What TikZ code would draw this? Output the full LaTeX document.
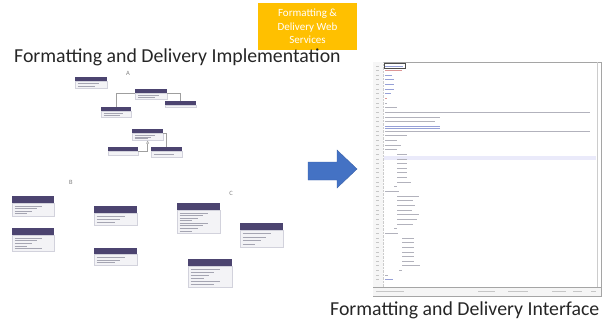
\documentclass[tikz,border=0pt]{standalone}
\usepackage{fontspec}
\setmainfont{Carlito}
\usetikzlibrary{arrows.meta,positioning}

\definecolor{umlpurple}{RGB}{76,68,112}
\definecolor{umlfill}{RGB}{243,243,246}
\definecolor{umledge}{RGB}{210,210,220}
\definecolor{umlgrey}{RGB}{165,165,178}
\definecolor{wsorange}{RGB}{255,192,0}
\definecolor{arrowblue}{RGB}{68,114,196}
\definecolor{edgrey}{RGB}{165,165,165}
\definecolor{codeblue}{RGB}{150,160,215}
\definecolor{codegrey}{RGB}{178,178,188}
\definecolor{codered}{RGB}{220,150,150}
\definecolor{hilite}{RGB}{234,234,250}

\tikzset{
  umlhead/.style={fill=umlpurple, inner sep=0, anchor=north west},
  umlbody/.style={fill=umlfill, draw=umledge, line width=0.3pt, inner sep=0, anchor=north west},
  umlrow/.style={umlgrey, line width=0.7pt},
  umllink/.style={draw=gray!75, line width=0.5pt},
  grouplabel/.style={font=\fontsize{6.5}{7}\selectfont, text=gray, inner sep=0},
  caption/.style={font=\fontsize{19.8}{22}\selectfont, text=black!85, inner sep=0, anchor=base west},
  wsbox/.style={fill=wsorange, text=white, align=center, inner sep=0,
    minimum width=99, minimum height=47, font=\fontsize{11}{13.5}\selectfont},
  codeline/.style={line width=1pt},
  lineno/.style={gray!45, line width=1pt},
}

% name, x, y, width, header height, body height, rows
\newcommand{\umlclass}[7]{%
  \node[umlhead, minimum width=#4, minimum height=#5] (#1) at (#2,#3) {};
  \node[umlbody, minimum width=#4, minimum height=#6] (#1b) at (#1.south west) {};
  \ifnum#7>0
  \foreach \r in {1,...,#7}{
    \pgfmathsetmacro\rowlen{#4*(0.3+0.12*mod(\r*7,4))}
    \pgfmathsetmacro\rowdown{#6*\r/(#7+1)}
    \draw[umlrow] ([xshift=2.5pt,yshift=-\rowdown pt]#1b.north west) -- ++(\rowlen pt,0);
  }
  \fi
}

\begin{document}
\begin{tikzpicture}[x=1pt, y=-1pt]
\useasboundingbox (0,0) rectangle (605,322);

% titles
\node[wsbox] (services) at (307.5,26.5) {Formatting \&\\Delivery Web\\Services};
\node[caption] (impltitle) at (14,62) {Formatting and Delivery Implementation};
\node[caption] (ifacetitle) at (330,315) {Formatting and Delivery Interface};

% implementation: group A
\node[grouplabel] (grpA) at (128,73) {A};
\umlclass{A1}{75}{77}{32}{4}{7}{2}
\umlclass{A2}{135}{89}{32}{4}{6}{2}
\umlclass{A3}{165}{101}{31}{4}{1.5}{0}
\umlclass{A4}{101}{107}{30}{4}{6}{2}
\umlclass{A5}{132}{129}{31}{4}{7}{3}
\umlclass{A6}{108}{147}{30}{4}{4}{0}
\umlclass{A7}{151}{147}{31}{4}{6}{1}
\draw[umllink] (A2b.north west) -| (A4.north);
\draw[umllink] (A2b.north east) -| (A3.north);
\draw[umllink, -{Triangle[open, length=3pt, width=3pt]}] (A6b.north east) -| (A5b.south);
\draw[umllink] (A5b.north east) -| (A7.north);

% group B
\node[grouplabel] (grpB) at (71,182) {B};
\umlclass{B1}{12}{196}{42}{7}{13}{4}
\umlclass{B2}{12}{228}{42}{7}{16}{5}
\umlclass{B3}{94}{206}{43}{7}{12}{3}
\umlclass{B4}{94}{248}{43}{6}{11}{3}

% group C
\node[grouplabel] (grpC) at (231,193) {C};
\umlclass{C1}{177}{203}{43}{7}{23}{8}
\umlclass{C2}{240}{223}{43}{7}{17}{4}
\umlclass{C3}{188}{259}{44}{7}{21}{6}

% arrow
\fill[arrowblue, draw=arrowblue!85!black, line width=0.4pt]
  (308,162) -- (337,162) -- (337,150) -- (357,169) -- (337,188) -- (337,180) -- (308,180) -- cycle;

% editor window
\draw[edgrey, fill=white, line width=0.6pt] (373,62) rectangle (601,296);
\fill[gray!7] (373.3,62.3) rectangle (383,287);
\draw[gray!40, densely dotted] (383,62.3) -- (383,287);
\fill[hilite] (384,156) rectangle (596,160);
\draw[gray!40] (597,62.3) -- (597,287);
\fill[gray!8] (373.3,287) rectangle (600.7,295.7);
\draw[edgrey, line width=0.4pt] (373,287) -- (601,287);
\foreach \sx/\sl in {376/28, 478/17, 508/20, 552/14, 573/9, 591/5}
  \draw[lineno] (\sx,291.5) -- ++(\sl,0);

\foreach \ind/\len/\col [count=\i] in {
  0/18/codeblue, 0/17/codered, 0/7/codeblue, 0/9/codeblue, 0/9/codeblue,
  0/9/codeblue, 0/6/codeblue, 0/2/codered, 0/2/codegrey, 0/12/codegrey,
  0/205/codegrey, 0/55/codegrey, 0/50/codegrey, 0/55/codeblue, 0/205/codegrey,
  0/22/codegrey, 0/12/codegrey, 0/16/codegrey, 0/12/codegrey,
  12/10/codegrey, 12/10/codegrey, 12/10/codegrey, 12/10/codegrey, 12/10/codegrey,
  12/10/codegrey, 12/14/codegrey, 9/3/codegrey,
  0/14/codegrey, 12/22/codegrey, 12/16/codegrey, 12/18/codegrey, 12/15/codegrey,
  12/22/codegrey, 12/20/codegrey, 12/16/codegrey, 9/3/codegrey,
  0/13/codegrey, 17/12/codegrey, 17/12/codegrey, 17/12/codegrey, 17/12/codegrey,
  17/12/codegrey, 17/12/codegrey, 17/18/codegrey, 14/3/codegrey,
  0/3/codegrey, 0/8/codeblue}{
  \draw[codeline, \col] ({385+\ind},{66+4.65*(\i-1)}) -- ++(\len,0);
  \draw[lineno] (376,{66+4.65*(\i-1)}) -- ++(3,0);
}
\draw[black!70, line width=0.4pt] (384,63.5) rectangle (405,68.5);
\draw[codeblue, line width=0.3pt] (385,127.8) -- ++(55,0);
\end{tikzpicture}
\end{document}
